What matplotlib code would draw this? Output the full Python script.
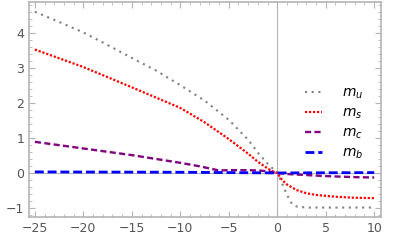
import matplotlib
matplotlib.use('Agg')
import matplotlib.pyplot as plt
from matplotlib.ticker import MultipleLocator

# values
x_u = [-25, -22.5, -20, -17.5, -15, -12.5, -10, -7.5, -5, -3, -2, -1, 0, 0.5, 1, 1.5, 2, 3, 5, 10]
m_u = [4.61, 4.32, 4.02, 3.66, 3.29, 2.93, 2.51, 2.07, 1.52, 0.95, 0.58, 0.27, 0.0, -0.3, -0.62, -0.88, -0.96, -0.99, -0.99, -0.99]

x_s = [-25, -20, -15, -10, -7.5, -5, -3, -2, -1, -0.5, 0, 0.5, 1, 2, 3, 4, 6, 8, 10]
m_s = [3.53, 3.03, 2.45, 1.86, 1.45, 0.97, 0.55, 0.32, 0.13, 0.05, 0.0, -0.2, -0.33, -0.49, -0.58, -0.63, -0.68, -0.71, -0.72]

x_c = [-25, -20, -15, -10, -8, -6, -5, -3, -2, -1, 0, 1, 3, 5, 8, 10]
m_c = [0.89, 0.70, 0.51, 0.29, 0.19, 0.07, 0.08, 0.08, 0.07, 0.05, 0.0, -0.03, -0.06, -0.09, -0.12, -0.13]

x_b = [-25, -10, 0, 10]
m_b = [0.03, 0.02, 0.0, 0.01]

labels = ['$m_u$', '$m_s$', '$m_c$', '$m_b$']

plt.rcParams['mathtext.fontset'] = 'dejavusans'
fig = plt.figure(figsize=(4.15, 2.48), dpi=100)
ax = fig.add_axes([0.070, 0.125, 0.848, 0.867])

ax.axhline(0, color='#b4b4b4', lw=0.8, zorder=1)
ax.axvline(0, color='#b4b4b4', lw=0.8, zorder=1)

ax.plot(x_u, m_u, color='#808080', lw=1.5, ls=(0, (1, 2.2)), label=labels[0])
ax.plot(x_s, m_s, color='#ff0000', lw=1.6, ls=(0, (1, 0.8)), label=labels[1])
ax.plot(x_c, m_c, color='#800080', lw=1.7, ls=(0, (2.6, 1.4)), label=labels[2])
ax.plot(x_b, m_b, color='#0000ff', lw=2, ls=(0, (3.2, 1.4)), label=labels[3])

ax.set_xlim(-25.6, 10.7)
ax.set_ylim(-1.26, 4.89)
ax.xaxis.set_major_locator(MultipleLocator(5))
ax.xaxis.set_minor_locator(MultipleLocator(1))
ax.yaxis.set_major_locator(MultipleLocator(1))
ax.yaxis.set_minor_locator(MultipleLocator(0.2))
ax.tick_params(which='both', direction='in', top=True, right=True,
               color='#b4b4b4', labelcolor='#555555', labelsize=9)
ax.tick_params(which='major', length=4, width=0.8)
ax.tick_params(which='minor', length=2, width=0.6)
for s in ax.spines.values():
    s.set_color('#b4b4b4')
    s.set_linewidth(1.2)

ax.legend(loc='upper left', bbox_to_anchor=(0.75, 0.67), frameon=False,
          fontsize=10, handlelength=1.2, labelspacing=0.33, handletextpad=1.4)

fig.savefig('out.png', dpi=100)
